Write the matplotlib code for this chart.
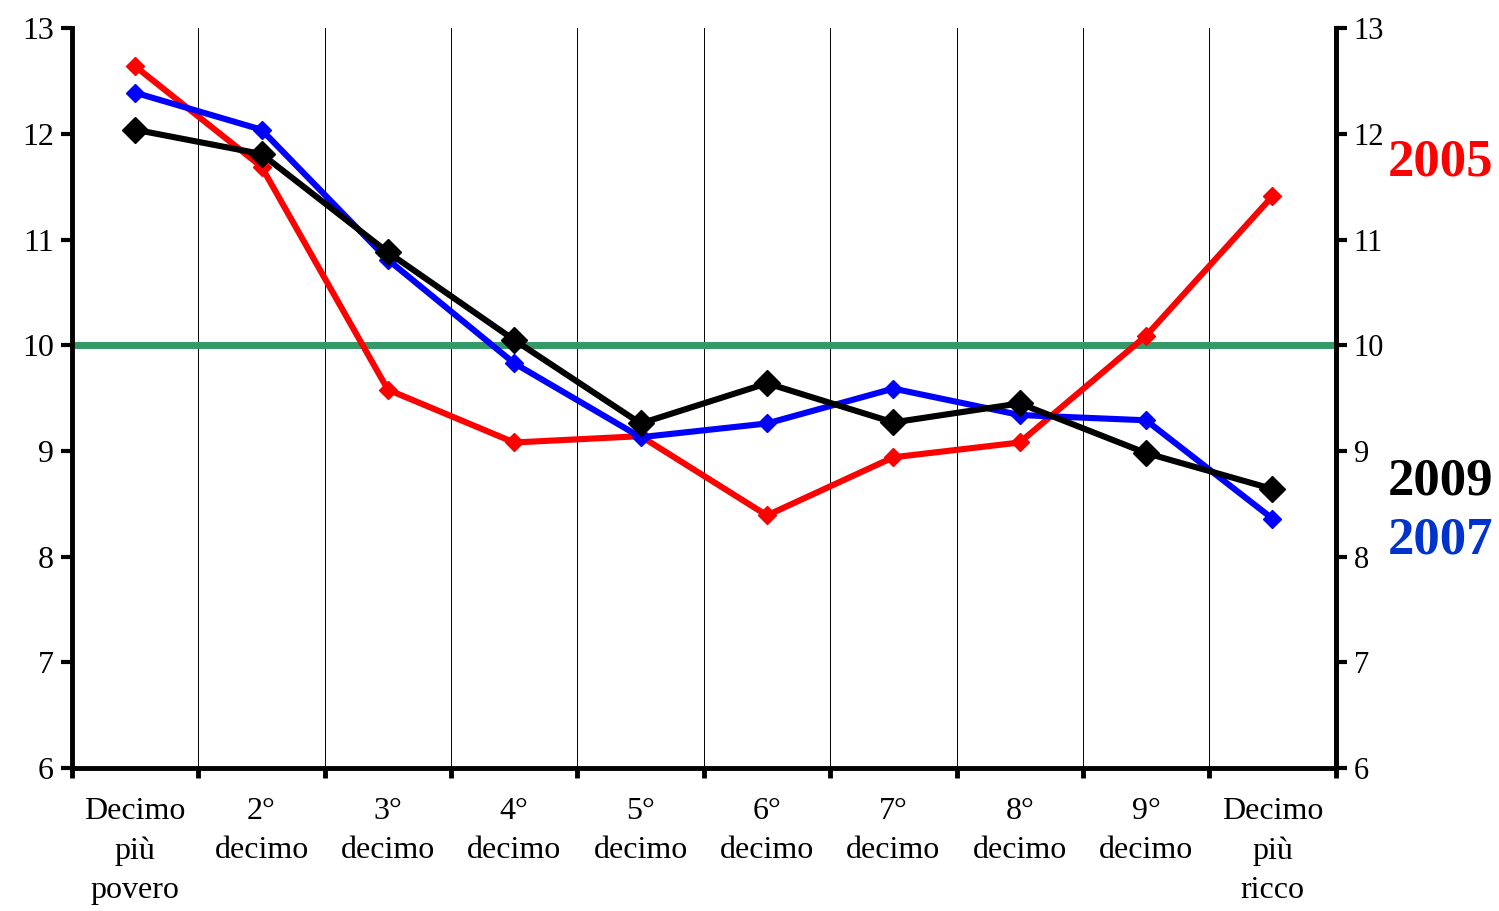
import matplotlib
matplotlib.use("Agg")
import matplotlib.pyplot as plt
from matplotlib.ticker import FixedLocator

plt.rcParams["font.family"] = ["Liberation Serif", "DejaVu Serif"]

categories = ["Decimo\npiù\npovero", "2°\ndecimo", "3°\ndecimo", "4°\ndecimo", "5°\ndecimo",
              "6°\ndecimo", "7°\ndecimo", "8°\ndecimo", "9°\ndecimo", "Decimo\npiù\nricco"]
y2005 = [12.64, 11.69, 9.58, 9.08, 9.14, 8.39, 8.94, 9.08, 10.09, 11.41]
y2007 = [12.39, 12.04, 10.81, 9.83, 9.13, 9.26, 9.59, 9.34, 9.29, 8.36]
y2009 = [12.04, 11.81, 10.88, 10.05, 9.26, 9.64, 9.27, 9.45, 8.98, 8.64]
reference = 10
yticks = [6, 7, 8, 9, 10, 11, 12, 13]

fig = plt.figure(figsize=(14.99, 9.11), dpi=100)
ax = fig.add_axes([0.048, 0.157, 0.843, 0.812])
x = list(range(len(categories)))

ax.axhline(reference, color="#339966", lw=5, zorder=2)
ax.plot(x, y2005, color="#FF0000", lw=4.4, marker="D", ms=9, zorder=3)
ax.plot(x, y2007, color="#0000FF", lw=4.4, marker="D", ms=9, zorder=4)
ax.plot(x, y2009, color="#000000", lw=4.4, marker="D", ms=13, zorder=5)

ax.set_xlim(-0.5, len(categories) - 0.5)
ax.set_ylim(6, 13)
ax.set_yticks(yticks)
ax.tick_params(axis="y", direction="out", length=8, width=3, labelsize=23, pad=5)

# boundaries as major ticks + grid, labels on minor ticks at centres
ax.xaxis.set_major_locator(FixedLocator([i - 0.5 for i in range(len(categories) + 1)]))
ax.xaxis.set_minor_locator(FixedLocator(x))
ax.set_xticklabels([""] * (len(categories) + 1))
ax.set_xticklabels(categories, minor=True, fontsize=23, linespacing=1.45)
ax.tick_params(axis="x", which="major", direction="out", length=7, width=3.5)
ax.tick_params(axis="x", which="minor", length=0, pad=21)
ax.grid(axis="x", which="major", color="black", lw=0.7)

for side in ["left", "bottom", "right"]:
    ax.spines[side].set_linewidth(3.5)
ax.spines["top"].set_visible(False)

ax2 = ax.twinx()
ax2.set_ylim(6, 13)
ax2.set_yticks(yticks)
ax2.tick_params(axis="y", direction="out", length=8, width=3, labelsize=22, pad=5)
ax2.spines["right"].set_linewidth(3.5)
ax2.spines["top"].set_visible(False)
ax2.spines["left"].set_visible(False)
ax2.spines["bottom"].set_visible(False)

fig.text(0.926, 0.822, "2005", color="#FF0000", fontsize=38, fontweight="bold", va="center")
fig.text(0.926, 0.472, "2009", color="#000000", fontsize=38, fontweight="bold", va="center")
fig.text(0.926, 0.407, "2007", color="#0033CC", fontsize=38, fontweight="bold", va="center")

fig.savefig("out.png", dpi=100)
